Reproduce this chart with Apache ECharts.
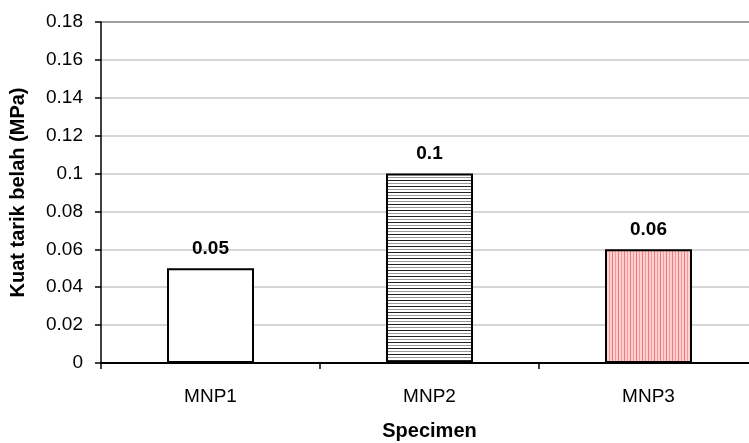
<!DOCTYPE html>
<html><head><meta charset="utf-8">
<script src="https://cdn.jsdelivr.net/npm/echarts@6/dist/echarts.min.js"></script>
<style>html,body{margin:0;padding:0;background:#fff}#c{width:749px;height:443px}</style>
</head><body><div id="c"></div>
<script>
const categories = ['MNP1', 'MNP2', 'MNP3'];
const values = [0.05, 0.1, 0.06];
const labels = ['0.05', '0.1', '0.06'];
const yTicks = [0, 0.02, 0.04, 0.06, 0.08, 0.1, 0.12, 0.14, 0.16, 0.18];

function hPattern() {
  const c = document.createElement('canvas');
  c.width = 8; c.height = 6;
  const g = c.getContext('2d');
  g.fillStyle = '#ffffff'; g.fillRect(0, 0, 8, 6);
  g.fillStyle = '#222222'; g.fillRect(0, 0, 8, 1);
  g.fillStyle = '#999999'; g.fillRect(0, 3, 8, 1);
  return c;
}
function vPattern() {
  const c = document.createElement('canvas');
  c.width = 6; c.height = 8;
  const g = c.getContext('2d');
  g.fillStyle = '#ffd0d0'; g.fillRect(0, 0, 6, 8);
  g.fillStyle = '#f07878'; g.fillRect(0, 0, 1, 8);
  g.fillStyle = '#f49a9a'; g.fillRect(3, 0, 1, 8);
  return c;
}
const fills = ['#ffffff', { image: hPattern(), repeat: 'repeat' }, { image: vPattern(), repeat: 'repeat' }];

const chart = echarts.init(document.getElementById('c'), null, { renderer: 'canvas' });
const gridColors = yTicks.map((v, i) => i === yTicks.length - 1 ? '#808080' : '#c8c8c8');
chart.setOption({
  animation: false,
  textStyle: { fontFamily: 'Liberation Sans, Arial, sans-serif' },
  grid: { left: 101, width: 657, top: 22, height: 341, containLabel: false, outerBoundsMode: 'none' },
  xAxis: {
    type: 'category',
    data: categories,
    name: 'Specimen',
    nameLocation: 'middle',
    nameGap: 58,
    nameTextStyle: { fontSize: 20, fontWeight: 'bold', color: '#000' },
    axisLine: { lineStyle: { color: '#000', width: 2 } },
    axisTick: { show: true, alignWithLabel: false, length: 6, lineStyle: { color: '#000', width: 1.5 } },
    axisLabel: { fontSize: 19, color: '#000', margin: 24 }
  },
  yAxis: {
    type: 'value',
    min: 0, max: 0.18, interval: 0.02,
    name: 'Kuat tarik belah (MPa)',
    nameLocation: 'middle',
    nameGap: 73,
    nameTextStyle: { fontSize: 20, fontWeight: 'bold', color: '#000' },
    axisLine: { show: true, lineStyle: { color: '#000', width: 1.5 } },
    axisTick: { show: true, length: 6, lineStyle: { color: '#000', width: 1.5 } },
    axisLabel: { fontSize: 19, color: '#000', margin: 18, formatter: v => String(+v.toFixed(2)) },
    splitLine: { show: true, lineStyle: { color: gridColors, width: 1.5 } }
  },
  series: [{
    type: 'bar',
    barWidth: 87,
    data: values.map((v, i) => ({ value: v, itemStyle: { color: fills[i] } })),
    itemStyle: { borderColor: '#000', borderWidth: 2 },
    label: {
      show: true, position: 'top', distance: 10,
      fontSize: 19, fontWeight: 'bold', color: '#000',
      formatter: p => labels[p.dataIndex]
    }
  }]
});
</script></body></html>
